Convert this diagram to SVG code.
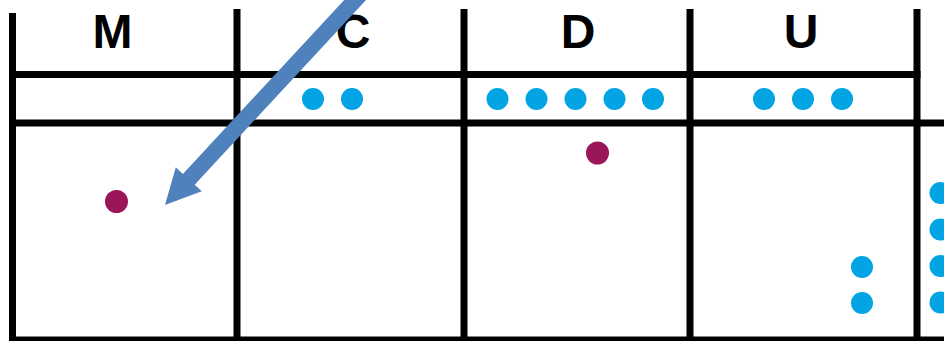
<svg xmlns="http://www.w3.org/2000/svg" width="944" height="341" viewBox="0 0 944 341">
  <style>
    .ln { stroke: #000; stroke-width: 7; fill: none; }
    .hd { font-family: "Liberation Sans", Arial, sans-serif; font-weight: bold; font-size: 48px; text-anchor: middle; fill: #000; }
    .b { fill: #02A4E3; }
    .m { fill: #9B1559; }
    .arrow { fill: #4F81BD; }
  </style>
  <rect width="944" height="341" fill="#fff"/>
  <g id="grid">
    <line class="ln" x1="12.5" y1="13" x2="12.5" y2="341"/>
    <line class="ln" x1="237" y1="9" x2="237" y2="341"/>
    <line class="ln" x1="464" y1="9" x2="464" y2="341"/>
    <line class="ln" x1="690" y1="9" x2="690" y2="341"/>
    <line class="ln" x1="917" y1="9" x2="917" y2="341"/>
    <line class="ln" x1="9" y1="74.5" x2="920.5" y2="74.5"/>
    <line class="ln" x1="9" y1="123" x2="944" y2="123"/>
    <line class="ln" x1="9" y1="340" x2="944" y2="340"/>
  </g>
  <g id="col-M">
    <text class="hd" x="112.5" y="48">M</text>
    <circle class="m" cx="116.5" cy="201.5" r="11.5"/>
  </g>
  <g id="col-C">
    <text class="hd" x="353" y="48">C</text>
    <circle class="b" cx="313" cy="99" r="11"/>
    <circle class="b" cx="352" cy="99" r="11"/>
  </g>
  <g id="col-D">
    <text class="hd" x="578" y="48">D</text>
    <circle class="b" cx="497.5" cy="99" r="11"/>
    <circle class="b" cx="536.5" cy="99" r="11"/>
    <circle class="b" cx="575.5" cy="99" r="11"/>
    <circle class="b" cx="614.5" cy="99" r="11"/>
    <circle class="b" cx="653" cy="99" r="11"/>
    <circle class="m" cx="597.5" cy="153" r="11.5"/>
  </g>
  <g id="col-U">
    <text class="hd" x="801" y="48">U</text>
    <circle class="b" cx="764" cy="99" r="11"/>
    <circle class="b" cx="803" cy="99" r="11"/>
    <circle class="b" cx="842" cy="99" r="11"/>
    <circle class="b" cx="862" cy="267" r="11"/>
    <circle class="b" cx="862" cy="303" r="11"/>
  </g>
  <g id="col-next">
    <circle class="b" cx="940.5" cy="193" r="11"/>
    <circle class="b" cx="940.5" cy="229.5" r="11"/>
    <circle class="b" cx="940.5" cy="266" r="11"/>
    <circle class="b" cx="940.5" cy="302.5" r="11"/>
  </g>
  <g id="connectors">
    <polygon class="arrow" points="165,205 201.8,191.3 194.7,184.7 370.3,-4.6 358.5,-15.4 182.9,173.9 175.8,167.3"/>
  </g>
</svg>
